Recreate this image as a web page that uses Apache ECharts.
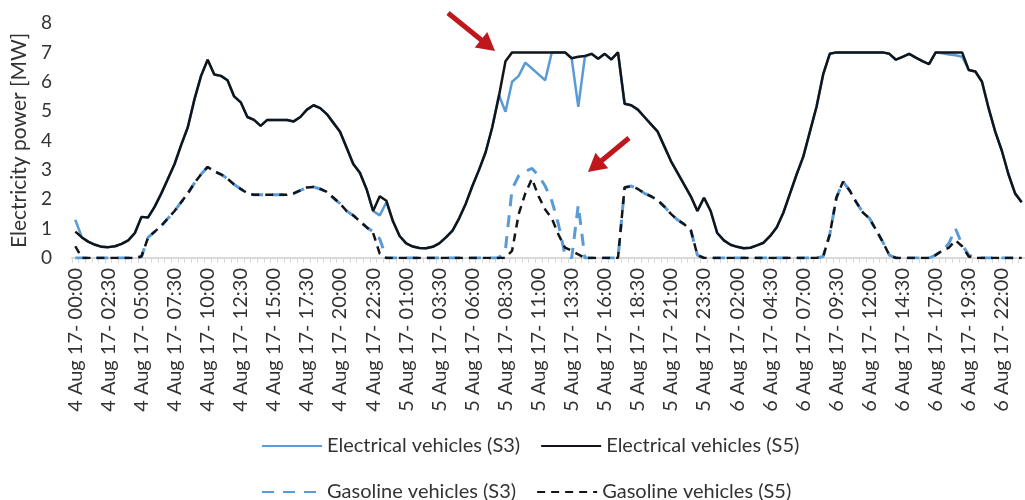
<!DOCTYPE html>
<html>
<head>
<meta charset="utf-8">
<script src="https://cdn.jsdelivr.net/npm/echarts@6/dist/echarts.min.js"></script>
<style>
html,body{margin:0;padding:0;background:#fff;}
#chart{width:1025px;height:500px;}
</style>
</head>
<body>
<div id="chart"></div>
<script>
// ---- data ----
const days = ['4 Aug 17', '5 Aug 17', '6 Aug 17'];
const categories = [];
for (const d of days) {
  for (let h = 0; h < 24; h++) {
    for (const m of ['00', '30']) {
      categories.push(d + '- ' + String(h).padStart(2, '0') + ':' + m);
    }
  }
}
const yTicks = [0, 1, 2, 3, 4, 5, 6, 7, 8];

const seriesNames = ['Electrical vehicles (S3)', 'Electrical vehicles (S5)', 'Gasoline vehicles (S3)', 'Gasoline vehicles (S5)'];

const evS3 = [
  1.3, 0.7, 0.55, 0.45, 0.38, 0.37, 0.4, 0.48, 0.6, 0.85,
  1.4, 1.38, 1.75, 2.2, 2.7, 3.2, 3.85, 4.45, 5.4, 6.2,
  6.75, 6.25, 6.2, 6.05, 5.5, 5.3, 4.8, 4.7, 4.5, 4.7,
  4.7, 4.7, 4.7, 4.65, 4.8, 5.05, 5.2, 5.1, 4.9, 4.6,
  4.3, 3.75, 3.2, 2.9, 2.35, 1.6, 1.45, 1.9, 1.25, 0.75,
  0.5, 0.39, 0.34, 0.33, 0.38, 0.5, 0.7, 0.93, 1.35, 1.85,
  2.45, 3.0, 3.6, 4.45, 5.55, 4.98, 6.0, 6.2, 6.65, 6.45,
  6.25, 6.05, 7.0, 7.0, 7.0, 6.8, 5.15, 6.85, 6.95, 6.78,
  6.95, 6.76, 7.0, 5.25, 5.2, 5.05, 4.8, 4.55, 4.3, 3.8,
  3.3, 2.9, 2.5, 2.1, 1.6, 2.05, 1.6, 0.85, 0.6, 0.45,
  0.38, 0.33, 0.35, 0.43, 0.52, 0.75, 1.05, 1.55, 2.2, 2.85,
  3.45, 4.3, 5.15, 6.25, 6.95, 7.0, 7.0, 7.0, 7.0, 7.0,
  7.0, 7.0, 7.0, 6.95, 6.75, 6.85, 6.95, 6.82, 6.7, 6.6,
  7.0, 6.97, 6.93, 6.9, 6.85, 6.4, 6.35, 6.0, 5.1, 4.3,
  3.65, 2.85, 2.2, 1.9
];
const evS5 = [
  0.9, 0.7, 0.55, 0.45, 0.38, 0.37, 0.4, 0.48, 0.6, 0.85,
  1.4, 1.38, 1.75, 2.2, 2.7, 3.2, 3.85, 4.45, 5.4, 6.2,
  6.75, 6.25, 6.2, 6.05, 5.5, 5.3, 4.8, 4.7, 4.5, 4.7,
  4.7, 4.7, 4.7, 4.65, 4.8, 5.05, 5.2, 5.1, 4.9, 4.6,
  4.3, 3.75, 3.2, 2.9, 2.35, 1.6, 2.1, 1.95, 1.25, 0.75,
  0.5, 0.39, 0.34, 0.33, 0.38, 0.5, 0.7, 0.93, 1.35, 1.85,
  2.45, 3.0, 3.6, 4.45, 5.5, 6.7, 7.0, 7.0, 7.0, 7.0,
  7.0, 7.0, 7.0, 7.0, 7.0, 6.8, 6.85, 6.88, 6.95, 6.78,
  6.95, 6.76, 7.0, 5.25, 5.2, 5.05, 4.8, 4.55, 4.3, 3.8,
  3.3, 2.9, 2.5, 2.1, 1.6, 2.05, 1.6, 0.85, 0.6, 0.45,
  0.38, 0.33, 0.35, 0.43, 0.52, 0.75, 1.05, 1.55, 2.2, 2.85,
  3.45, 4.3, 5.15, 6.25, 6.95, 7.0, 7.0, 7.0, 7.0, 7.0,
  7.0, 7.0, 7.0, 6.95, 6.75, 6.85, 6.95, 6.82, 6.7, 6.6,
  7.0, 7.0, 7.0, 7.0, 7.0, 6.4, 6.35, 6.0, 5.1, 4.3,
  3.65, 2.85, 2.2, 1.9
];
const gasS3 = [
  0, 0, 0, 0, 0, 0, 0, 0, 0, 0,
  0.05, 0.7, 0.9, 1.1, 1.35, 1.6, 1.9, 2.2, 2.55, 2.85,
  3.1, 2.95, 2.85, 2.7, 2.5, 2.35, 2.2, 2.15, 2.15, 2.15,
  2.15, 2.15, 2.15, 2.2, 2.3, 2.4, 2.42, 2.35, 2.25, 2.05,
  1.85, 1.6, 1.45, 1.25, 1.05, 0.9, 0.65, 0, 0, 0,
  0, 0, 0, 0, 0, 0, 0, 0, 0, 0,
  0, 0, 0, 0, 0, 0.3, 2.35, 2.8, 2.95, 3.05,
  2.8, 2.45, 1.95, 1.15, 0.1, 0, 1.8, 0, 0, 0,
  0, 0, 0, 2.4, 2.45, 2.35, 2.2, 2.1, 1.97, 1.75,
  1.5, 1.3, 1.15, 0.95, 0.1, 0, 0, 0, 0, 0,
  0, 0, 0, 0, 0, 0, 0, 0, 0, 0,
  0, 0, 0, 0.05, 0.8, 2.05, 2.6, 2.3, 1.9, 1.55,
  1.35, 0.95, 0.55, 0.1, 0, 0, 0, 0, 0, 0,
  0.1, 0.25, 0.5, 1.0, 0.45, 0.1, 0, 0, 0, 0,
  0, 0, 0, 0
];
const gasS5 = [
  0.4, 0, 0, 0, 0, 0, 0, 0, 0, 0,
  0.05, 0.7, 0.9, 1.1, 1.35, 1.6, 1.9, 2.2, 2.55, 2.85,
  3.1, 2.95, 2.85, 2.7, 2.5, 2.35, 2.2, 2.15, 2.15, 2.15,
  2.15, 2.15, 2.15, 2.2, 2.3, 2.4, 2.42, 2.35, 2.25, 2.05,
  1.85, 1.6, 1.45, 1.25, 1.05, 0.85, 0.15, 0, 0, 0,
  0, 0, 0, 0, 0, 0, 0, 0, 0, 0,
  0, 0, 0, 0, 0, 0, 0.25, 1.5, 2.2, 2.7,
  2.1, 1.65, 1.35, 0.8, 0.35, 0.25, 0.12, 0, 0, 0,
  0, 0, 0, 2.4, 2.45, 2.35, 2.2, 2.1, 1.97, 1.75,
  1.5, 1.3, 1.15, 0.95, 0.1, 0, 0, 0, 0, 0,
  0, 0, 0, 0, 0, 0, 0, 0, 0, 0,
  0, 0, 0, 0.05, 0.8, 2.05, 2.6, 2.3, 1.9, 1.55,
  1.35, 0.95, 0.55, 0.1, 0, 0, 0, 0, 0, 0,
  0.1, 0.25, 0.35, 0.6, 0.4, 0.05, 0, 0, 0, 0,
  0, 0, 0, 0
];

// ---- chart ----
const FONT = 'Lato, "Noto Sans", sans-serif';
const TXT = '#333333';
const BLUE = '#5B9BD5';
const BLACK = '#111418';

const chart = echarts.init(document.getElementById('chart'), null, {renderer: 'canvas'});

function arrow(tail, tip) {
  const dx = tip[0] - tail[0], dy = tip[1] - tail[1];
  const L = Math.hypot(dx, dy);
  const ux = dx / L, uy = dy / L;
  const hl = 18, hw = 10;
  const bx = tip[0] - ux * hl, by = tip[1] - uy * hl;
  const px = -uy, py = ux;
  return [
    {type: 'polyline', shape: {points: [tail, [bx + ux * 2, by + uy * 2]]}, style: {stroke: '#C0171C', lineWidth: 5}},
    {type: 'polygon', shape: {points: [tip, [bx + px * hw, by + py * hw], [bx - px * hw, by - py * hw]]}, style: {fill: '#C0171C'}}
  ];
}

const legendCommon = {
  itemWidth: 60, itemHeight: 14, itemGap: 20,
  itemStyle: {opacity: 0},
  textStyle: {fontFamily: FONT, fontSize: 20, color: TXT}
};

chart.setOption({
  animation: false,
  backgroundColor: '#fff',
  textStyle: {fontFamily: FONT},
  grid: {left: 72, right: 0, top: 23, bottom: 242, containLabel: false},
  legend: [
    Object.assign({data: [seriesNames[0], seriesNames[1]], left: 256, top: 431}, legendCommon),
    Object.assign({data: [seriesNames[2], seriesNames[3]], left: 256, top: 477}, legendCommon)
  ],
  xAxis: {
    type: 'category',
    data: categories,
    boundaryGap: true,
    axisLine: {lineStyle: {color: '#d9d9d9', width: 2}},
    axisTick: {show: true, interval: 0, length: 5, lineStyle: {color: '#d9d9d9', width: 1}},
    axisLabel: {interval: 4, rotate: 90, margin: 10, fontSize: 20, color: TXT, fontFamily: FONT},
    splitLine: {show: false}
  },
  yAxis: {
    type: 'value',
    min: yTicks[0], max: yTicks[yTicks.length - 1], interval: 1,
    name: 'Electricity power [MW]',
    nameLocation: 'middle',
    nameGap: 41,
    nameTextStyle: {fontSize: 21, color: TXT, fontFamily: FONT},
    axisLine: {show: false},
    axisTick: {show: false},
    axisLabel: {fontSize: 19, color: TXT, margin: 20, fontFamily: FONT},
    splitLine: {show: false}
  },
  series: [
    {name: seriesNames[0], type: 'line', data: evS3, symbol: 'none', z: 2,
     lineStyle: {color: BLUE, width: 2.5}, itemStyle: {color: BLUE}},
    {name: seriesNames[1], type: 'line', data: evS5, symbol: 'none', z: 3,
     lineStyle: {color: BLACK, width: 2.5}, itemStyle: {color: BLACK}},
    {name: seriesNames[2], type: 'line', data: gasS3, symbol: 'none', z: 4,
     lineStyle: {color: BLUE, width: 3, type: [12, 9]}, itemStyle: {color: BLUE}},
    {name: seriesNames[3], type: 'line', data: gasS5, symbol: 'none', z: 5,
     lineStyle: {color: BLACK, width: 2.5, type: [8, 6]}, itemStyle: {color: BLACK}}
  ],
  graphic: [].concat(arrow([448, 13], [495, 51]), arrow([629, 138], [588, 172]))
});
</script>
</body>
</html>
